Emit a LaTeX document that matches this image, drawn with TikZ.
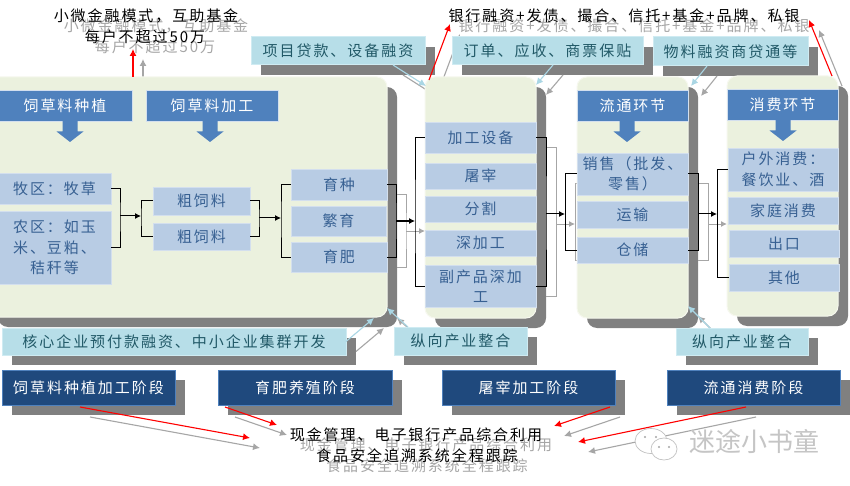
\documentclass[tikz,border=0pt]{standalone}
\usepackage{fontspec}
\usetikzlibrary{arrows.meta,calc}
\newfontfamily\cjk[LetterSpace=13]{Noto Sans CJK SC}
\newfontfamily\cjkw{Noto Sans CJK SC}
\definecolor{itemblue}{HTML}{B8CCE4}
\definecolor{itemedge}{HTML}{D3DFEE}
\definecolor{itemtext}{HTML}{376092}
\definecolor{panelgreen}{HTML}{EBF1DE}
\definecolor{paneledge}{HTML}{F6F8EE}
\definecolor{headblue}{HTML}{4F81BD}
\definecolor{labelblue}{HTML}{B7DEE8}
\definecolor{labeledge}{HTML}{CFEBF2}
\definecolor{labeltext}{HTML}{215967}
\definecolor{stageblue}{HTML}{1F497D}
\definecolor{shadowgray}{HTML}{808080}
\definecolor{lightarrow}{HTML}{A9D6E4}
\definecolor{softgray}{HTML}{A6A6A6}
\pgfdeclarelayer{back}
\pgfsetlayers{back,main}
\tikzset{
  basebox/.style={inner sep=0pt,outer sep=0pt,align=center,font=\cjk\fontsize{15}{20.5}\selectfont},
  item/.style={basebox,fill=itemblue,draw=itemedge,line width=.6pt,text=itemtext},
  head/.style={basebox,fill=headblue,draw=itemedge,line width=.5pt,text=white},
  lab/.style={basebox,fill=labelblue,draw=labeledge,line width=1pt,text=labeltext},
  stage/.style={basebox,fill=stageblue,draw=headblue,line width=.5pt,text=white},
  panel/.style={basebox,fill=panelgreen,draw=paneledge,line width=1pt,rounded corners=10pt},
  shadowbox/.style={fill=shadowgray,draw=none},
  note/.style={basebox,text=black},
  notesh/.style={basebox,text=softgray},
  wire/.style={black,line width=1pt},
  wiretip/.style={black,line width=1pt,-{Latex[length=6pt,width=6pt]}},
  redtip/.style={red,line width=1.1pt,-{Latex[length=7pt,width=7pt]}},
  bluetip/.style={lightarrow,line width=1.1pt,-{Latex[length=7pt,width=7pt]}},
  blockarrow/.style={fill=headblue,draw=none},
}
% box from corners: [style]{name}{x1}{y1}{x2}{y2}{text}
\newcommand\bx[7][]{\node[#2,minimum width={(#5-#3)*1pt},minimum height={(#6-#4)*1pt},#1] (#7) at ({(#3+#5)/2},{(#4+#6)/2})}
\newcommand\blockdown[2]{\fill[blockarrow] (#1-7.5,#2) -- (#1+7.5,#2) -- (#1+7.5,#2+10.5) -- (#1+13.5,#2+10.5) -- (#1,#2+21) -- (#1-13.5,#2+10.5) -- (#1-7.5,#2+10.5) -- cycle;}
\newcommand\shbox[4]{\fill[shadowbox] (#1+10,#2+10) rectangle (#3+10,#4+10);}
\newcommand\wires{
  \draw[wire] (mu.east) -| (j1) |- (nong.east);
  \draw[wiretip] (j1) -- (j2);
  \draw[wire] (c1.west) -| (j2) |- (c2.west);
  \draw[wire] (c1.east) -| (j3) |- (c2.east);
  \draw[wiretip] (j3) -- (j4);
  \draw[wire] (yz.west) -| (j4) |- (yf.west);
  \draw[wire] (yz.east) -| (j5) |- (yf.east);
  \draw[wiretip] (j5) -- (j6);
  \draw[wire] (jg.west) -| (j6) |- (fc.west);
  \draw[wire] (jg.east) -| (j7) |- (fc.east);
  \draw[wiretip] (j7) -- (j8);
  \draw[wire] (xs.west) -| (j8) |- (cc.west);
  \draw[wire] (xs.east) -| (j9) |- (cc.east);
  \draw[wiretip] (j9) -- (j10);
  \draw[wire] (hw.west) -| (j10) |- (qt.west);
}
\newcommand\arrowset{
  \draw[redtip] ($(p1.north west)+(145,0)$) -- (a1);
  \draw[redtip] ($(p2.north west)+(4,3)$) -- (a2);
  \draw[redtip] ($(p4.north east)+(-6,0)$) -- (a3);
  \draw[redtip] ($(s1.south west)+(78,2)$) -- (a4);
  \draw[redtip] ($(s2.south west)+(7,2)$) -- (a5);
  \draw[redtip] ($(s3.south east)+(-5,2)$) -- (a6);
  \draw[redtip] ($(s4.south west)+(79,2)$) -- (a7);
  \draw[bluetip] ($(l1.south east)+(-32,0)$) -- ($(p2.north west)+(1,9)$);
  \draw[bluetip] ($(l2.south west)+(101,0)$) -- ($(p2.north east)+(0,8)$);
  \draw[bluetip] ($(l3.south west)+(54,0)$) -- ($(p3.north east)+(3,9)$);
  \draw[bluetip] (l4.east) -- ($(p1.south east)+(-13,1)$);
  \draw[bluetip] ($(l5.north west)+(14,0)$) -- ($(p1.south east)+(0,-9)$);
  \draw[bluetip] ($(l6.north west)+(34,0)$) -- ($(p3.south east)+(0,-12)$);
}
\begin{document}
\begin{tikzpicture}[x=1pt,y=-1pt]
\useasboundingbox (0,0) rectangle (850,486);

% ---------- panels
\bx{panel}{-12}{77}{387}{317}{p1}{};
\bx{panel}{425}{77}{536}{318}{p2}{};
\bx{panel}{577}{77}{688}{318}{p3}{};
\bx{panel}{727}{76}{838}{316}{p4}{};

% ---------- panel 1
\bx{head}{-2}{90}{132}{121}{h1}{饲草料种植};
\bx{head}{146}{90}{278}{121}{h2}{饲草料加工};
\blockdown{70}{121}
\blockdown{210}{121}
\bx{item}{-2}{173}{111}{204}{mu}{牧区：牧草};
\bx{item}{-2}{211}{111}{284}{nong}{农区：如玉\\米、豆粕、\\秸秆等};
\bx{item}{153}{187}{250}{215}{c1}{粗饲料};
\bx{item}{153}{223}{250}{250}{c2}{粗饲料};
\bx{item}{291}{169}{387}{200}{yz}{育种};
\bx{item}{291}{206}{386}{236}{fy}{繁育};
\bx{item}{291}{242}{387}{272}{yf}{育肥};

% ---------- panel 2
\bx{item}{425}{122}{536}{153}{jg}{加工设备};
\bx{item}{425}{163}{536}{189}{tz}{屠宰};
\bx{item}{425}{196}{536}{222}{fg}{分割};
\bx{item}{425}{230}{536}{256}{sj}{深加工};
\bx{item}{425}{265}{536}{307}{fc}{副产品深加\\工};

% ---------- panel 3
\bx{head}{577}{90}{688}{121}{h3}{流通环节};
\blockdown{627}{121}
\bx{item}{577}{153}{688}{195}{xs}{销售（批发、\\零售）};
\bx{item}{577}{201}{688}{228}{ys}{运输};
\bx{item}{577}{237}{688}{263}{cc}{仓储};

% ---------- panel 4
\bx{head}{727}{89}{838}{120}{h4}{消费环节};
\blockdown{783}{120}
\bx{item}{728}{148}{838}{191}{hw}{户外消费：\\餐饮业、酒};
\bx{item}{728}{197}{838}{224}{jt}{家庭消费};
\bx{item}{729}{230}{839}{257}{ck}{出口};
\bx{item}{729}{264}{839}{291}{qt}{其他};

% ---------- labels
\bx{lab}{251}{37}{425}{65}{l1}{项目贷款、设备融资};
\bx{lab}{452}{37}{643}{65}{l2}{订单、应收、商票保贴};
\bx{lab}{653}{37}{808}{66}{l3}{物料融资商贷通等};
\bx{lab}{2}{328}{346}{355}{l4}{核心企业预付款融资、中小企业集群开发};
\bx{lab}{394}{327}{527}{355}{l5}{纵向产业整合};
\bx{lab}{676}{328}{808}{355}{l6}{纵向产业整合};

% ---------- stages
\bx{stage}{2}{370}{175}{405}{s1}{饲草料种植加工阶段};
\bx{stage}{218}{370}{392}{405}{s2}{育肥养殖阶段};
\bx{stage}{442}{370}{615}{405}{s3}{屠宰加工阶段};
\bx{stage}{667}{370}{840}{405}{s4}{流通消费阶段};

% ---------- junctions and free ends
\coordinate (j1) at (120,216);
\coordinate (j2) at (141,216);
\coordinate (j3) at (259,218);
\coordinate (j4) at (281,218);
\coordinate (j5) at (396,221);
\coordinate (j6) at (415,221);
\coordinate (j7) at (546,214);
\coordinate (j8) at (565,214);
\coordinate (j9) at (698,214);
\coordinate (j10) at (717,214);
\coordinate (a1) at (133,49);
\coordinate (a2) at (450,24);
\coordinate (a3) at (809,20);
\coordinate (a4) at (250,438);
\coordinate (a5) at (277,425);
\coordinate (a6) at (554,426);
\coordinate (a7) at (578,442);

% ---------- notes
\node[note] (t1) at (146,16) {小微金融模式，互助基金};
\node[note] (t2) at (145,37) {每户不超过50万};
\node[note] (t3) at (624,16) {银行融资+发债、撮合、信托+基金+品牌、私银};
\node[note] (t4) at (416,435) {现金管理、电子银行产品综合利用};
\node[note] (t5) at (417,456) {食品安全追溯系统全程跟踪};

% ---------- black and coloured connectors
\wires
\arrowset

% ---------- shadow layer
\begin{pgfonlayer}{back}
  \fill[white] (0,0) rectangle (850,486);
  \node[notesh] (t1s) at (156,26) {小微金融模式，互助基金};
  \node[notesh] (t2s) at (155,47) {每户不超过50万};
  \node[notesh] (t3s) at (634,26) {银行融资+发债、撮合、信托+基金+品牌、私银};
  \node[notesh] (t4s) at (426,445) {现金管理、电子银行产品综合利用};
  \node[notesh] (t5s) at (427,466) {食品安全追溯系统全程跟踪};
  \fill[shadowbox,rounded corners=10pt] (-2,87) rectangle (397,327);
  \fill[shadowbox,rounded corners=10pt] (435,87) rectangle (546,328);
  \fill[shadowbox,rounded corners=10pt] (587,87) rectangle (698,328);
  \fill[shadowbox,rounded corners=10pt] (737,86) rectangle (848,326);
  \shbox{251}{37}{425}{65}
  \shbox{452}{37}{643}{65}
  \shbox{653}{37}{808}{66}
  \shbox{2}{328}{346}{355}
  \shbox{394}{327}{527}{355}
  \shbox{676}{328}{808}{355}
  \shbox{2}{370}{175}{405}
  \shbox{218}{370}{392}{405}
  \shbox{442}{370}{615}{405}
  \shbox{667}{370}{840}{405}
  \begin{scope}[transform canvas={shift={(10,10)}},
      wire/.style={softgray,line width=1pt},
      wiretip/.style={softgray,line width=1pt,-{Latex[length=6pt,width=6pt]}},
      redtip/.style={softgray,line width=1.1pt,-{Latex[length=7pt,width=7pt]}},
      bluetip/.style={softgray,line width=1.1pt,-{Latex[length=7pt,width=7pt]}}]
    \wires
    \arrowset
  \end{scope}
\end{pgfonlayer}

% ---------- watermark
\draw[line width=.7pt,draw=softgray!70,fill=white] (651,441) ellipse (16 and 12.5);
\draw[line width=.7pt,draw=softgray!70,fill=white] (664,449) ellipse (13 and 11);
\fill[softgray] (645,437) circle (1.2) (656,437) circle (1.2) (659,447) circle (1.1) (669,447) circle (1.1);
\node[basebox,text=softgray!65,font=\cjkw\fontsize{26}{30}\selectfont] (wm) at (754,442) {迷途小书童};
\end{tikzpicture}
\end{document}
